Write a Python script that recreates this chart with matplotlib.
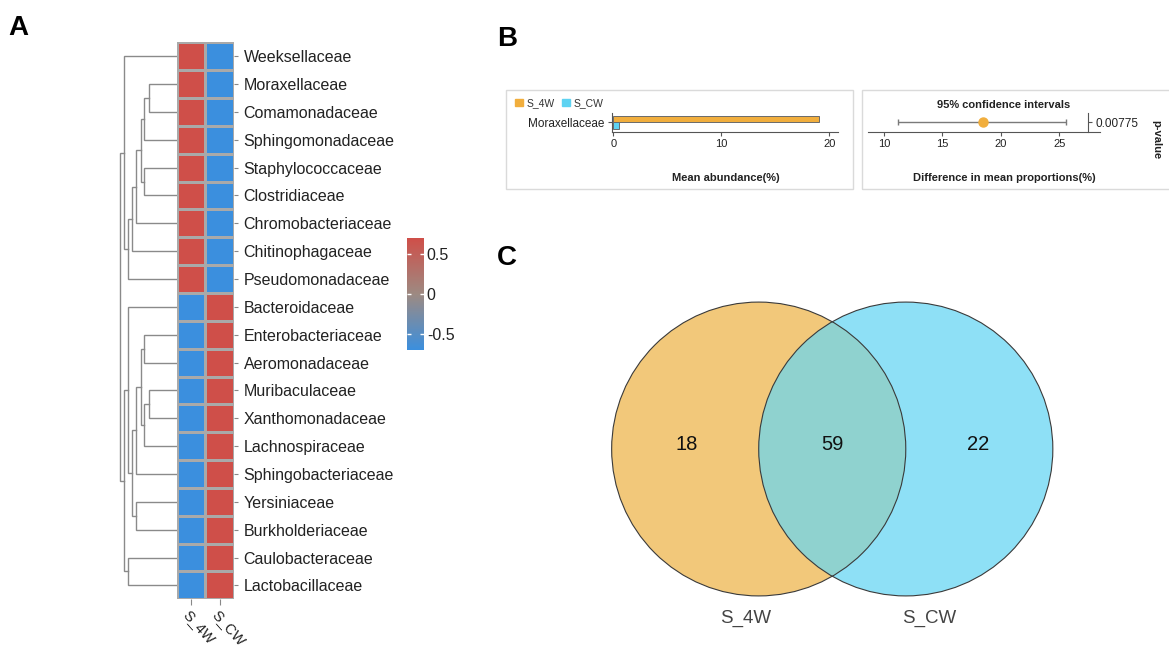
#!/usr/bin/env python3
"""Heatmap with dendrogram, STAMP-style difference plot and Venn diagram."""

import matplotlib

matplotlib.use("Agg")
import matplotlib.pyplot as plt  # noqa: E402
import numpy as np  # noqa: E402
from matplotlib.colors import LinearSegmentedColormap  # noqa: E402
from matplotlib.patches import Circle, Patch, Rectangle  # noqa: E402

plt.rcParams["font.family"] = ["Liberation Sans", "DejaVu Sans"]
plt.rcParams["axes.unicode_minus"] = False

# ---- data -------------------------------------------------------------
families = [
    "Weeksellaceae", "Moraxellaceae", "Comamonadaceae", "Sphingomonadaceae",
    "Staphylococcaceae", "Clostridiaceae", "Chromobacteriaceae",
    "Chitinophagaceae", "Pseudomonadaceae", "Bacteroidaceae",
    "Enterobacteriaceae", "Aeromonadaceae", "Muribaculaceae",
    "Xanthomonadaceae", "Lachnospiraceae", "Sphingobacteriaceae",
    "Yersiniaceae", "Burkholderiaceae", "Caulobacteraceae", "Lactobacillaceae",
]
samples = ["S_4W", "S_CW"]
z_s4w = [0.707, 0.707, 0.707, 0.707, 0.707, 0.707, 0.707, 0.707, 0.707,
         -0.707, -0.707, -0.707, -0.707, -0.707, -0.707, -0.707, -0.707,
         -0.707, -0.707, -0.707]
z_scw = [-0.707, -0.707, -0.707, -0.707, -0.707, -0.707, -0.707, -0.707,
         -0.707, 0.707, 0.707, 0.707, 0.707, 0.707, 0.707, 0.707, 0.707,
         0.707, 0.707, 0.707]
# row linkage: (child a, child b, height); leaves are 0..19, merges 20..
row_linkage = [
    (1, 2, 27.3), (20, 3, 32.3), (4, 5, 32.3), (21, 22, 36.0),
    (23, 6, 40.7), (24, 7, 44.3), (25, 8, 49.0), (0, 26, 52.7),
    (10, 11, 32.3), (12, 13, 27.3), (29, 14, 32.3), (28, 30, 36.0),
    (31, 15, 40.7), (16, 17, 40.7), (32, 33, 44.3), (9, 34, 49.0),
    (18, 19, 49.0), (35, 36, 52.7), (27, 37, 56.7),
]

diff_taxa = ["Moraxellaceae"]
mean_s4w = [19.07]
mean_scw = [0.52]
diff_mean = [18.47]
ci_low = [11.2]
ci_high = [25.6]
p_values = [0.00775]

venn_sets = ["S_4W", "S_CW"]
venn_only_4w = 18
venn_shared = 59
venn_only_cw = 22

# ---- layout helpers -----------------------------------------------------
W, H = 1169, 648
fig = plt.figure(figsize=(W / 100, H / 100), dpi=100)


def px_axes(x0, y0, x1, y1):
    return fig.add_axes([x0 / W, 1 - y1 / H, (x1 - x0) / W, (y1 - y0) / H])


def fig_text(x, y, s, **kw):
    fig.text(x / W, 1 - y / H, s, **kw)


RED, BLUE = "#CF4F49", "#3B8FDE"
cmap = LinearSegmentedColormap.from_list("rb", [BLUE, "#9D8A82", RED])
ORANGE, CYAN = "#F1AE3D", "#5ED3F2"

# ---- A: heatmap -----------------------------------------------------------
ax_h = px_axes(176.7, 42.3, 234, 599.3)
values = np.column_stack([z_s4w, z_scw])
mesh = ax_h.pcolormesh(values, cmap=cmap, vmin=-0.707, vmax=0.707,
                       edgecolors="#A9A9A9", linewidth=1.0)
ax_h.set_ylim(len(families), 0)
ax_h.set_xlim(0, len(samples))
for s in ax_h.spines.values():
    s.set_visible(False)
ax_h.yaxis.tick_right()
ax_h.set_yticks(np.arange(len(families)) + 0.5, families)
ax_h.set_xticks(np.arange(len(samples)) + 0.5)
ax_h.set_xticklabels(samples, rotation=-48, ha="left", va="top",
                     rotation_mode="anchor")
ax_h.tick_params(axis="y", length=3, color="#888888", pad=4,
                 labelsize=11.5, labelcolor="#222222")
ax_h.tick_params(axis="x", length=4, color="#888888", pad=2,
                 labelsize=10.5, labelcolor="#222222")

# dendrogram
ax_d = px_axes(116.7, 42.3, 176.7, 599.3)
pos = {i: (i + 0.5, 0.0) for i in range(len(families))}
for k, (a, b, h) in enumerate(row_linkage):
    ya, ha_ = pos[a]
    yb, hb = pos[b]
    ax_d.plot([ha_, h, h, hb], [ya, ya, yb, yb], color="#8A8A8A", lw=1.0,
              solid_joinstyle="miter")
    pos[len(families) + k] = ((ya + yb) / 2, h)
ax_d.set_xlim(60, 0)
ax_d.set_ylim(len(families), 0)
ax_d.axis("off")

# colorbar
cax = px_axes(407, 238, 424, 350)
cb = fig.colorbar(mesh, cax=cax, ticks=[0.5, 0, -0.5])
cb.ax.set_yticklabels(["0.5", "0", "-0.5"])
cb.outline.set_visible(False)
cax.tick_params(direction="in", color="white", length=3, width=1,
                left=True, right=True, pad=2, labelsize=11.5,
                labelcolor="#222222")

# ---- B: difference plot ---------------------------------------------------
frame_kw = dict(fill=False, edgecolor="#DADADA", lw=1.0,
                transform=fig.transFigure)
fig.add_artist(Rectangle((506 / W, 1 - 189 / H), 347 / W, 99 / H, **frame_kw))
fig.add_artist(Rectangle((862 / W, 1 - 189 / H), 320 / W, 99 / H, **frame_kw))

ax_b = px_axes(611.7, 113, 838, 131.7)
yy = np.arange(len(diff_taxa))
ax_b.barh(yy + 0.175, mean_s4w, height=0.35, color=ORANGE,
          edgecolor="#6A6A6A", lw=0.7)
ax_b.barh(yy - 0.175, mean_scw, height=0.35, color=CYAN,
          edgecolor="#6A6A6A", lw=0.7)
ax_b.set_xlim(-0.15, 20.8)
ax_b.set_ylim(-0.5, 0.5)
ax_b.set_xticks([0, 10, 20])
ax_b.set_yticks(yy, diff_taxa)
for side in ("top", "right"):
    ax_b.spines[side].set_visible(False)
for side in ("left", "bottom"):
    ax_b.spines[side].set_color("#555555")
    ax_b.spines[side].set_linewidth(0.8)
ax_b.tick_params(length=3, width=0.8, color="#555555", labelsize=8,
                 labelcolor="#222222", pad=2)
ax_b.tick_params(axis="y", labelsize=8.5)
ax_b.legend(handles=[Patch(color=ORANGE, label="S_4W"),
                     Patch(color=CYAN, label="S_CW")],
            ncol=2, frameon=False, loc="center left",
            bbox_to_anchor=(511 / W, 1 - 103 / H),
            bbox_transform=fig.transFigure, fontsize=7.5,
            handlelength=0.75, handleheight=0.75, handletextpad=0.35,
            columnspacing=0.7, borderaxespad=0, labelcolor="#333333")
fig_text(726, 178, "Mean abundance(%)", ha="center", va="center",
         fontsize=8, fontweight="bold", color="#222222")

ax_c = px_axes(868, 113, 1100, 131.7)
ax_c.errorbar(diff_mean, yy, xerr=[np.subtract(diff_mean, ci_low),
                                   np.subtract(ci_high, diff_mean)],
              fmt="o", color=ORANGE, ms=6.5, ecolor="#7A7A7A", elinewidth=1,
              capsize=2, capthick=1)
ax_c.set_xlim(8.63, 28.5)
ax_c.set_ylim(-0.5, 0.5)
ax_c.set_xticks([10, 15, 20, 25])
ax_c.spines["top"].set_visible(False)
ax_c.spines["left"].set_visible(False)
ax_c.spines["right"].set_position(("data", 27.5))
for side in ("right", "bottom"):
    ax_c.spines[side].set_color("#555555")
    ax_c.spines[side].set_linewidth(0.8)
ax_c.yaxis.tick_right()
ax_c.set_yticks(yy, [f"{p:g}" for p in p_values])
ax_c.tick_params(length=3, width=0.8, color="#555555", labelsize=8,
                 labelcolor="#222222", pad=2)
ax_c.tick_params(axis="y", labelsize=8.5)
fig_text(1004, 105, "95% confidence intervals", ha="center", va="center",
         fontsize=8, fontweight="bold", color="#222222")
fig_text(1004, 178, "Difference in mean proportions(%)", ha="center",
         va="center", fontsize=8, fontweight="bold", color="#222222")
fig_text(1156, 140, "p-value", ha="center", va="center", rotation=270,
         fontsize=8, fontweight="bold", color="#222222")

# ---- C: Venn --------------------------------------------------------------
ax_v = px_axes(582.25, 258, 1082.25, 640)
ax_v.set_xlim(-1.7, 1.7)
ax_v.set_ylim(-1.3, 1.3)
ax_v.axis("off")
left = Circle((-0.5, 0), 1.0, facecolor="#F2C87A", edgecolor="none")
right = Circle((0.5, 0), 1.0, facecolor="#8EE0F6", edgecolor="none")
ax_v.add_patch(left)
ax_v.add_patch(right)
lens = Circle((-0.5, 0), 1.0, facecolor="#8FD2CF", edgecolor="none")
ax_v.add_patch(lens)
lens.set_clip_path(right)
for cx in (-0.5, 0.5):
    ax_v.add_patch(Circle((cx, 0), 1.0, fill=False, edgecolor="#3A3A3A",
                          lw=0.8))
for x, n in zip((-0.99, 0.0, 0.99), (venn_only_4w, venn_shared, venn_only_cw)):
    ax_v.text(x, 0.03, str(n), ha="center", va="center", fontsize=14.5,
              color="#111111")
for x, name in zip((-0.59, 0.66), venn_sets):
    ax_v.text(x, -1.15, name, ha="center", va="center", fontsize=13.5,
              color="#444444")

# ---- panel letters ----------------------------------------------------------
for x, y, s in ((18, 28, "A"), (507, 39, "B"), (507, 258, "C")):
    fig_text(x, y, s, ha="center", va="center", fontsize=20,
             fontweight="bold")

fig.savefig("out.png", dpi=100)
